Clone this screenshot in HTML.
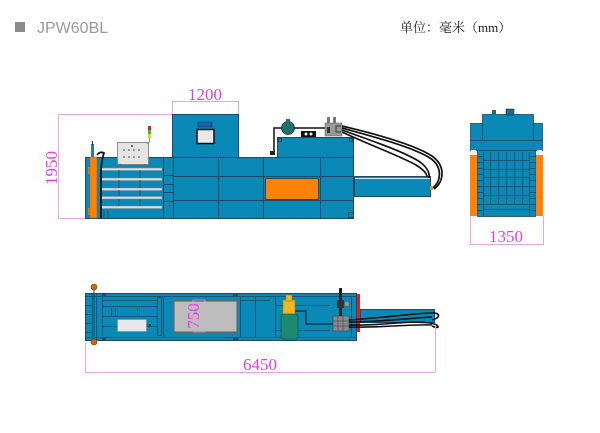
<!DOCTYPE html>
<html><head><meta charset="utf-8"><style>
html,body{margin:0;padding:0;background:#fff;}
svg{display:block;}
text{font-family:"Liberation Serif","Noto Serif CJK SC",serif;}
</style></head><body>
<svg width="600" height="433" viewBox="0 0 600 433" xmlns="http://www.w3.org/2000/svg">
<rect width="600" height="433" fill="#fff"/>
<!-- header -->
<rect x="15" y="22" width="10" height="10" fill="#8c8c8c"/>
<text x="37" y="33" font-size="16" fill="#9a9a9a" style="font-family:'Liberation Sans',sans-serif">JPW60BL</text>
<text x="400" y="32" font-size="13" fill="#222" style="font-family:'Liberation Serif','Noto Serif CJK SC',serif">单位：毫米（mm）</text>

<!-- ===== FRONT VIEW ===== -->
<g stroke="#e8a6ea" stroke-width="1" fill="none">
<line x1="58" y1="114.5" x2="172" y2="114.5"/>
<line x1="58.5" y1="114" x2="58.5" y2="218"/>
<line x1="58" y1="218.5" x2="88" y2="218.5"/>
<line x1="172.5" y1="101" x2="172.5" y2="114"/>
<line x1="238.5" y1="101" x2="238.5" y2="114"/>
<line x1="172" y1="101.5" x2="239" y2="101.5"/>
</g>
<text x="205" y="100" font-size="17" fill="#e23ee0" text-anchor="middle">1200</text>
<text transform="translate(57,168) rotate(-90)" font-size="17" fill="#e23ee0" text-anchor="middle">1950</text>

<g stroke="#1d4a66" stroke-width="1">
<rect x="85.5" y="157.5" width="268" height="61" fill="#0b89b6"/>
<rect x="172.5" y="114.5" width="66" height="43" fill="#0b89b6"/>
<rect x="277.5" y="137.5" width="76" height="20" fill="#0b89b6"/>
<rect x="354.5" y="176.5" width="76" height="20" fill="#0b89b6"/>
<rect x="265.5" y="178.5" width="53" height="21" fill="#ff8208"/>
</g>
<g stroke="#1d4a66" stroke-width="1" fill="none">
<line x1="163.5" y1="157" x2="163.5" y2="218"/>
<line x1="173.5" y1="157" x2="173.5" y2="218"/>
<line x1="218.5" y1="157" x2="218.5" y2="218"/>
<line x1="263.5" y1="157" x2="263.5" y2="218"/>
<line x1="320.5" y1="157" x2="320.5" y2="218"/>
<line x1="173" y1="176.5" x2="354" y2="176.5"/>
<line x1="173" y1="200.5" x2="354" y2="200.5"/>
<line x1="163" y1="175.5" x2="173" y2="175.5"/>
<line x1="163" y1="184.5" x2="173" y2="184.5"/>
<line x1="163" y1="192.5" x2="173" y2="192.5"/>
<line x1="163" y1="201.5" x2="173" y2="201.5"/>
<rect x="348.5" y="212.5" width="5" height="5"/>
<rect x="278.5" y="138.5" width="3" height="3"/>
<rect x="349.5" y="138.5" width="3" height="3"/>
</g>
<line x1="355" y1="178.5" x2="430" y2="178.5" stroke="#cfe8f2" stroke-width="1"/>
<rect x="198" y="122" width="14" height="5" fill="#1d5fa8" stroke="#0b3a70" stroke-width="0.5"/>
<rect x="197" y="129.5" width="17" height="14" fill="#e8e8e8" stroke="#111" stroke-width="1.5"/>

<g fill="#d8dde0" stroke="#7a8c96" stroke-width="0.5">
<rect x="100" y="168" width="62" height="2.5"/>
<rect x="100" y="178" width="62" height="2.5"/>
<rect x="100" y="188" width="62" height="2.5"/>
<rect x="100" y="196.5" width="62" height="2.5"/>
<rect x="100" y="206" width="62" height="2.5"/>
</g>
<g stroke="#1d4a66" stroke-width="0.8" fill="none">
<line x1="119" y1="170" x2="119" y2="178"/><line x1="140" y1="170" x2="140" y2="178"/>
<line x1="119" y1="180" x2="119" y2="188"/><line x1="140" y1="180" x2="140" y2="188"/>
<line x1="119" y1="190" x2="119" y2="196"/><line x1="140" y1="190" x2="140" y2="196"/>
<line x1="119" y1="199" x2="119" y2="206"/><line x1="140" y1="199" x2="140" y2="206"/>
<line x1="104" y1="210" x2="104" y2="218"/><line x1="108" y1="210" x2="108" y2="218"/>
</g>
<rect x="90" y="157" width="7" height="61" fill="#ff8208" stroke="#b25a00" stroke-width="0.5"/>
<rect x="88" y="167" width="2" height="7" fill="#e07000"/>
<rect x="88" y="208" width="2" height="7" fill="#e07000"/>
<rect x="91" y="144" width="3" height="13" fill="#2a7aa0"/>
<rect x="92" y="141" width="1" height="4" fill="#333"/>
<path d="M97,155 Q100,151 104,153 Q102,158 101,170 L101,218" stroke="#111" stroke-width="1.8" fill="none"/>
<rect x="117.5" y="142.5" width="31" height="22" fill="#e4e4e4" stroke="#777" stroke-width="0.8"/>
<g fill="#444">
<circle cx="124" cy="150" r="0.8"/><circle cx="129" cy="150" r="0.8"/><circle cx="134" cy="150" r="0.8"/><circle cx="139" cy="150" r="0.8"/>
<circle cx="124" cy="157" r="0.8"/><circle cx="129" cy="157" r="0.8"/><circle cx="134" cy="157" r="0.8"/><circle cx="139" cy="157" r="0.8"/>
<circle cx="132" cy="146" r="1"/>
</g>
<rect x="119" y="164" width="2" height="2" fill="#666"/><rect x="144" y="164" width="2" height="2" fill="#666"/>
<rect x="148" y="126" width="3" height="4" fill="#e02020"/>
<rect x="148" y="130" width="3" height="4" fill="#30c030"/>
<rect x="148" y="134" width="3" height="4" fill="#d8e020"/>
<path d="M149.5,138 L149.5,142 L147,144" stroke="#888" stroke-width="1" fill="none"/>

<path d="M283,128 L274,128 L274,153 L271,153" stroke="#111" stroke-width="1.5" fill="none"/>
<rect x="270" y="151" width="5" height="4" fill="#222"/>
<circle cx="288" cy="128" r="6.5" fill="#1f6f6a" stroke="#0d3d3a" stroke-width="0.8"/>
<rect x="286" y="119" width="4" height="3" fill="#1f6f6a"/>
<line x1="294" y1="128" x2="325" y2="128" stroke="#111" stroke-width="1.5"/>
<rect x="301" y="131" width="15" height="6" fill="#111"/>
<circle cx="306" cy="134" r="1.5" fill="#eee"/><circle cx="311" cy="134" r="1.5" fill="#eee"/>
<rect x="325" y="123" width="17" height="13" fill="#9a9a9a" stroke="#555" stroke-width="0.5"/>
<rect x="327" y="117" width="3" height="6" fill="#777"/><rect x="333" y="117" width="3" height="6" fill="#777"/>
<rect x="327" y="127" width="3" height="6" fill="#333"/>
<path d="M341,126 L336,126 L336,132 L341,132" stroke="#333" stroke-width="1" fill="none"/>
<g stroke="#111" stroke-width="1.7" fill="none">
<path d="M342,126 C380,135 415,145 432,156 C446,166 444,182 434,189"/>
<path d="M342,128 C378,138 412,147 430,158 C442,166 442,180 433,188"/>
<path d="M342,130 C375,142 405,152 420,162 C428,168 430,174 429,178"/>
<path d="M342,132 C372,146 400,156 416,165 C424,170 427,174 427,177"/>
</g>
<rect x="430" y="186" width="3" height="4" fill="#c9a020"/>

<!-- ===== SIDE VIEW ===== -->
<g stroke="#1d4a66" stroke-width="0.8">
<rect x="470.5" y="123.5" width="72" height="17" fill="#0b89b6"/>
<rect x="482.5" y="114.5" width="51" height="26" fill="#0b89b6"/>
<rect x="470.5" y="140.5" width="72" height="10" fill="#0b89b6"/>
<rect x="477.5" y="150.5" width="58" height="66" fill="#0b89b6"/>
</g>
<rect x="492" y="110" width="4" height="5" fill="#1d6a8a"/>
<rect x="506" y="109" width="8" height="6" fill="#1d6a8a" stroke="#123" stroke-width="0.5"/>
<rect x="470" y="155" width="7" height="61" fill="#ff8208"/>
<rect x="536" y="155" width="7" height="61" fill="#ff8208"/>
<rect x="471" y="150" width="5" height="5" fill="#e8f0f4"/>
<rect x="537" y="150" width="5" height="5" fill="#e8f0f4"/>
<g stroke="#1d4a66" stroke-width="0.8" fill="none">
<line x1="483.5" y1="152" x2="483.5" y2="216"/>
<line x1="529.5" y1="152" x2="529.5" y2="216"/>
<line x1="490.5" y1="152" x2="490.5" y2="205"/>
<line x1="498.5" y1="152" x2="498.5" y2="205"/>
<line x1="506.5" y1="152" x2="506.5" y2="205"/>
<line x1="514.5" y1="152" x2="514.5" y2="205"/>
<line x1="522.5" y1="152" x2="522.5" y2="205"/>
<line x1="483" y1="160.5" x2="530" y2="160.5"/>
<line x1="483" y1="169.5" x2="530" y2="169.5"/>
<line x1="483" y1="177.5" x2="530" y2="177.5"/>
<line x1="483" y1="186.5" x2="530" y2="186.5"/>
<line x1="483" y1="195.5" x2="530" y2="195.5"/>
<line x1="483" y1="204.5" x2="530" y2="204.5"/>
<line x1="483" y1="209.5" x2="530" y2="209.5"/>
<line x1="477" y1="156.5" x2="483" y2="156.5"/><line x1="477" y1="162.5" x2="483" y2="162.5"/>
<line x1="477" y1="168.5" x2="483" y2="168.5"/><line x1="477" y1="174.5" x2="483" y2="174.5"/>
<line x1="477" y1="180.5" x2="483" y2="180.5"/><line x1="477" y1="186.5" x2="483" y2="186.5"/>
<line x1="477" y1="192.5" x2="483" y2="192.5"/><line x1="477" y1="198.5" x2="483" y2="198.5"/>
<line x1="477" y1="204.5" x2="483" y2="204.5"/><line x1="477" y1="210.5" x2="483" y2="210.5"/>
<line x1="530" y1="156.5" x2="536" y2="156.5"/><line x1="530" y1="162.5" x2="536" y2="162.5"/>
<line x1="530" y1="168.5" x2="536" y2="168.5"/><line x1="530" y1="174.5" x2="536" y2="174.5"/>
<line x1="530" y1="180.5" x2="536" y2="180.5"/><line x1="530" y1="186.5" x2="536" y2="186.5"/>
<line x1="530" y1="192.5" x2="536" y2="192.5"/><line x1="530" y1="198.5" x2="536" y2="198.5"/>
<line x1="530" y1="204.5" x2="536" y2="204.5"/><line x1="530" y1="210.5" x2="536" y2="210.5"/>
</g>
<g stroke="#e8a6ea" stroke-width="1" fill="none">
<line x1="470.5" y1="216" x2="470.5" y2="245"/>
<line x1="543.5" y1="216" x2="543.5" y2="245"/>
<line x1="470" y1="244.5" x2="544" y2="244.5"/>
</g>
<text x="506" y="242" font-size="17" fill="#e23ee0" text-anchor="middle">1350</text>

<!-- ===== TOP VIEW ===== -->
<g stroke="#1d4a66" stroke-width="1">
<rect x="85.5" y="293.5" width="271" height="47" fill="#0b89b6"/>
<rect x="360.5" y="309.5" width="74" height="13" fill="#0b89b6"/>
</g>
<rect x="357" y="294" width="3" height="38" fill="#e02020"/>
<g stroke="#1d4a66" stroke-width="0.8" fill="none">
<line x1="85" y1="296.5" x2="356" y2="296.5"/>
<line x1="85" y1="337.5" x2="356" y2="337.5"/>
<line x1="92.5" y1="294" x2="92.5" y2="340"/>
<line x1="96.5" y1="294" x2="96.5" y2="340"/>
<line x1="85" y1="305.5" x2="92" y2="305.5"/>
<line x1="85" y1="314.5" x2="92" y2="314.5"/>
<line x1="85" y1="323.5" x2="92" y2="323.5"/>
<line x1="85" y1="332.5" x2="92" y2="332.5"/>
<line x1="102" y1="300.5" x2="158" y2="300.5"/>
<line x1="102" y1="306.5" x2="158" y2="306.5"/>
<line x1="102" y1="316.5" x2="158" y2="316.5"/>
<line x1="102" y1="326.5" x2="158" y2="326.5"/>
<line x1="102.5" y1="297" x2="102.5" y2="336"/>
<line x1="111.5" y1="308" x2="111.5" y2="316"/>
<line x1="115.5" y1="308" x2="115.5" y2="316"/>
<line x1="137.5" y1="308" x2="137.5" y2="316"/>
<rect x="157.5" y="297.5" width="4" height="38"/>
<line x1="163.5" y1="297" x2="163.5" y2="337"/>
<line x1="240" y1="300.5" x2="270" y2="300.5"/>
<line x1="240.5" y1="297" x2="240.5" y2="337"/>
<line x1="255.5" y1="297" x2="255.5" y2="337"/>
<line x1="275.5" y1="297" x2="275.5" y2="337"/>
<line x1="275" y1="305.5" x2="330" y2="305.5"/>
<line x1="275" y1="330.5" x2="330" y2="330.5"/>
<line x1="351.5" y1="297" x2="351.5" y2="337"/>
</g>
<rect x="233" y="293" width="5" height="3" fill="#1d4a66"/>
<rect x="233" y="338" width="5" height="3" fill="#1d4a66"/>
<rect x="102" y="293" width="4" height="3" fill="#1d4a66"/>
<rect x="102" y="338" width="4" height="3" fill="#1d4a66"/>
<rect x="117.5" y="319.5" width="29" height="12" fill="#e8e8e8" stroke="#888" stroke-width="0.6"/>
<circle cx="150" cy="325" r="1" fill="#222"/>
<line x1="147" y1="325" x2="150" y2="325" stroke="#222" stroke-width="0.6"/>
<rect x="173" y="300" width="65" height="33" fill="#5a6a70"/>
<rect x="174.5" y="301.5" width="62" height="30" fill="#bdbdbd" stroke="#7d8a90" stroke-width="0.5"/>
<text transform="translate(199,316) rotate(-90)" font-size="17" fill="#e23ee0" text-anchor="middle">750</text>
<rect x="193" y="300" width="12" height="32" fill="none" stroke="#e8a6ea" stroke-width="0.6"/>
<circle cx="94" cy="287" r="3" fill="#c86a18" stroke="#7a3c08" stroke-width="0.6"/>
<circle cx="94" cy="342" r="3" fill="#c86a18" stroke="#7a3c08" stroke-width="0.6"/>
<line x1="94" y1="290" x2="94" y2="339" stroke="#1d4a66" stroke-width="1"/>
<path d="M283,311 L306,311 L306,324 L333,324" stroke="#111" stroke-width="1" fill="none"/>
<rect x="283" y="300" width="12" height="14" fill="#f0b820" stroke="#9a7400" stroke-width="0.5"/>
<rect x="286" y="295" width="6" height="6" fill="#f0b820" stroke="#9a7400" stroke-width="0.5"/>
<rect x="281" y="314" width="17" height="25" rx="3" fill="#1c8a70" stroke="#0d5040" stroke-width="0.6"/>
<rect x="339" y="288" width="3" height="6" fill="#222"/>
<rect x="339" y="294" width="3" height="22" fill="#222"/>
<rect x="337" y="300" width="7" height="8" fill="#333"/>
<circle cx="347" cy="304" r="2.5" fill="#999" stroke="#555" stroke-width="0.5"/>
<rect x="333" y="316" width="16" height="15" fill="#8a8a8a" stroke="#444" stroke-width="0.6"/>
<g stroke="#444" stroke-width="0.6" fill="none">
<line x1="333" y1="321" x2="349" y2="321"/><line x1="333" y1="326" x2="349" y2="326"/>
<line x1="338" y1="316" x2="338" y2="331"/><line x1="343" y1="316" x2="343" y2="331"/>
</g>
<g stroke="#111" stroke-width="1.6" fill="none">
<path d="M349,320 C380,318 410,314 430,313 C441,312 441,318 432,320"/>
<path d="M349,322 C380,322 410,318 432,317"/>
<path d="M349,325 C380,326 410,320 430,323 C441,325 440,330 432,326"/>
<path d="M349,327 C380,328 410,324 432,325"/>
</g>
<g stroke="#e8a6ea" stroke-width="1" fill="none">
<line x1="85.5" y1="342" x2="85.5" y2="373"/>
<line x1="435.5" y1="325" x2="435.5" y2="373"/>
<line x1="85" y1="372.5" x2="436" y2="372.5"/>
</g>
<text x="260" y="370" font-size="17" fill="#e23ee0" text-anchor="middle">6450</text>
</svg>
</body></html>
